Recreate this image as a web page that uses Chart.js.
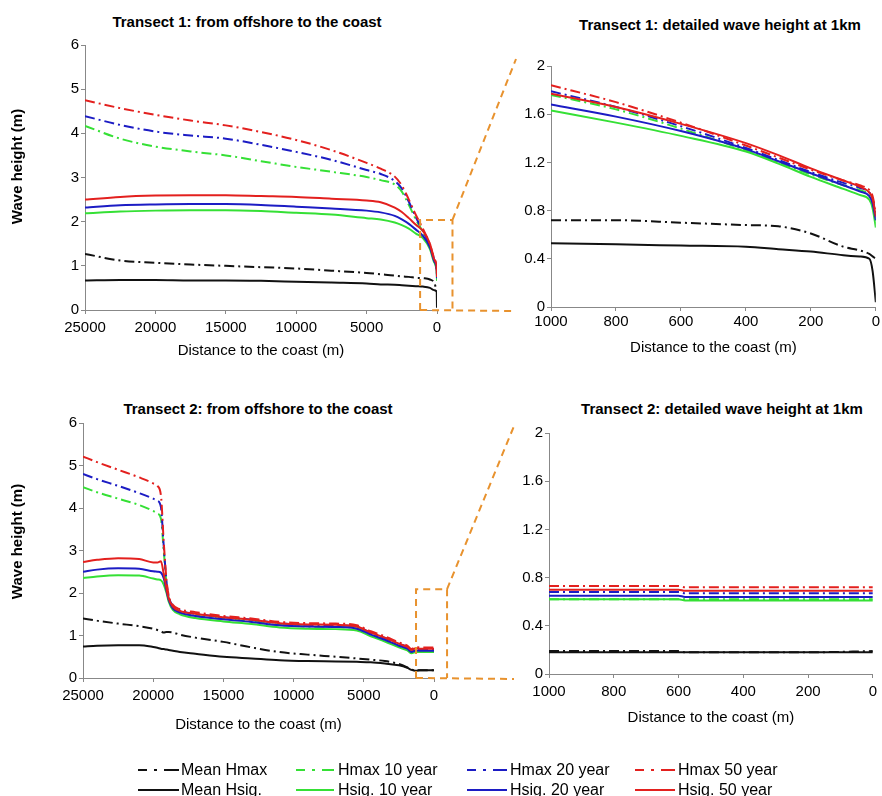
<!DOCTYPE html>
<html>
<head>
<meta charset="utf-8">
<script src="https://cdn.jsdelivr.net/npm/chart.js@4.4.1/dist/chart.umd.min.js"></script>
<style>
  body { margin: 0; background: #fff; width: 882px; height: 796px; position: relative; overflow: hidden;
         font-family: "Liberation Sans", Arial, sans-serif; color: #000; }
  .panel { position: absolute; }
  .title { position: absolute; transform: translate(-50%, -50%); font-weight: bold; font-size: 15px; white-space: nowrap; }
  .leg-line { position: absolute; }
  .leg-text { position: absolute; font-size: 16px; transform: translateY(-50%); white-space: nowrap; }
  #overlay { position: absolute; left: 0; top: 0; pointer-events: none; }
</style>
</head>
<body>
<div class="title" style="left:247px;top:21px">Transect 1: from offshore to the coast</div>
<div class="title" style="left:720px;top:24px">Transect 1: detailed wave height at 1km</div>
<div class="title" style="left:258px;top:408px">Transect 2: from offshore to the coast</div>
<div class="title" style="left:722px;top:408px">Transect 2: detailed wave height at 1km</div>

<div class="panel" style="left:0;top:0"><canvas id="c1" width="450" height="362"></canvas></div>
<div class="panel" style="left:520px;top:0"><canvas id="c2" width="362" height="362"></canvas></div>
<div class="panel" style="left:0;top:380px"><canvas id="c3" width="450" height="360"></canvas></div>
<div class="panel" style="left:520px;top:380px"><canvas id="c4" width="362" height="360"></canvas></div>
<canvas id="overlay" width="882" height="796"></canvas>
<div id="legend"></div>

<script>
// ---- data (distance to coast in m, wave height in m) ----

// Transect 1, offshore to coast
const t1Dist    = [25000, 22500, 20000, 17500, 15000, 12500, 10000, 7500, 5000, 4000, 3000, 2500, 2000, 1500, 1000, 500, 200, 20, 0];
const t1MeanHmax = [1.27, 1.12, 1.07, 1.03, 1.00, 0.97, 0.94, 0.89, 0.84, 0.81, 0.78, 0.76, 0.75, 0.73, 0.72, 0.69, 0.62, 0.44, 0.42];
const t1MeanHsig = [0.67, 0.68, 0.68, 0.67, 0.67, 0.66, 0.64, 0.62, 0.60, 0.58, 0.57, 0.56, 0.55, 0.54, 0.53, 0.50, 0.45, 0.41, 0.05];
const t1Hmax10  = [4.17, 3.88, 3.70, 3.59, 3.50, 3.37, 3.24, 3.13, 3.01, 2.94, 2.84, 2.68, 2.38, 2.05, 1.76, 1.42, 1.12, 0.86, 0.78];
const t1Hsig10  = [2.19, 2.23, 2.25, 2.26, 2.26, 2.24, 2.20, 2.16, 2.08, 2.05, 1.98, 1.92, 1.84, 1.73, 1.63, 1.38, 1.08, 0.87, 0.66];
const t1Hmax20  = [4.39, 4.19, 4.04, 3.95, 3.88, 3.74, 3.58, 3.40, 3.17, 3.08, 2.92, 2.75, 2.45, 2.10, 1.79, 1.45, 1.14, 0.90, 0.80];
const t1Hsig20  = [2.32, 2.37, 2.39, 2.40, 2.40, 2.38, 2.34, 2.30, 2.25, 2.21, 2.13, 2.05, 1.95, 1.82, 1.68, 1.42, 1.11, 0.90, 0.72];
const t1Hmax50  = [4.75, 4.57, 4.42, 4.29, 4.18, 4.03, 3.85, 3.62, 3.33, 3.20, 3.02, 2.82, 2.50, 2.15, 1.84, 1.48, 1.16, 0.95, 0.85];
const t1Hsig50  = [2.50, 2.56, 2.59, 2.60, 2.60, 2.58, 2.56, 2.52, 2.48, 2.44, 2.32, 2.22, 2.08, 1.93, 1.79, 1.50, 1.15, 0.97, 0.75];

// Transect 1, last 1 km
const d1Dist     = [1000, 800, 600, 400, 300, 200, 100, 50, 20, 10, 0];
const d1MeanHmax = [0.72, 0.72, 0.70, 0.68, 0.67, 0.61, 0.50, 0.47, 0.44, 0.42, 0.40];
const d1MeanHsig = [0.53, 0.52, 0.51, 0.50, 0.48, 0.46, 0.43, 0.42, 0.40, 0.30, 0.04];
const d1Hmax10   = [1.76, 1.64, 1.48, 1.30, 1.20, 1.10, 1.01, 0.97, 0.93, 0.88, 0.72];
const d1Hsig10   = [1.63, 1.53, 1.42, 1.29, 1.19, 1.08, 0.98, 0.93, 0.89, 0.82, 0.66];
const d1Hmax20   = [1.79, 1.66, 1.50, 1.32, 1.22, 1.12, 1.03, 0.99, 0.95, 0.90, 0.76];
const d1Hsig20   = [1.68, 1.58, 1.46, 1.31, 1.21, 1.11, 1.01, 0.96, 0.92, 0.86, 0.72];
const d1Hmax50   = [1.84, 1.70, 1.53, 1.34, 1.24, 1.14, 1.05, 1.01, 0.97, 0.92, 0.78];
const d1Hsig50   = [1.77, 1.66, 1.52, 1.36, 1.26, 1.15, 1.05, 1.00, 0.95, 0.90, 0.75];

// Transect 2, offshore to coast
const t2Dist     = [25000, 24000, 22500, 21000, 20000, 19700, 19450, 19250, 19050, 18900, 18600, 18100, 17000, 15000, 13000, 11000, 9000, 7000, 5500, 4500, 3500, 2500, 1900, 1600, 1300, 1000, 500, 0];
const t2MeanHmax = [1.40, 1.35, 1.28, 1.22, 1.16, 1.13, 1.10, 1.07, 1.08, 1.08, 1.07, 1.02, 0.95, 0.85, 0.72, 0.61, 0.55, 0.50, 0.46, 0.43, 0.40, 0.33, 0.25, 0.20, 0.18, 0.18, 0.18, 0.18];
const t2MeanHsig = [0.74, 0.76, 0.77, 0.77, 0.73, 0.71, 0.69, 0.68, 0.67, 0.66, 0.64, 0.61, 0.57, 0.50, 0.46, 0.42, 0.40, 0.39, 0.38, 0.37, 0.34, 0.30, 0.24, 0.19, 0.17, 0.18, 0.18, 0.18];
const t2Hmax10   = [4.49, 4.37, 4.22, 4.07, 3.93, 3.87, 3.75, 3.00, 2.20, 1.88, 1.66, 1.55, 1.47, 1.39, 1.33, 1.25, 1.21, 1.20, 1.17, 1.02, 0.90, 0.76, 0.68, 0.61, 0.63, 0.62, 0.62, 0.62];
const t2Hsig10   = [2.35, 2.39, 2.42, 2.41, 2.34, 2.32, 2.30, 2.20, 2.00, 1.80, 1.60, 1.50, 1.41, 1.33, 1.27, 1.19, 1.16, 1.15, 1.12, 0.98, 0.86, 0.72, 0.65, 0.58, 0.61, 0.61, 0.61, 0.61];
const t2Hmax20   = [4.80, 4.68, 4.52, 4.35, 4.22, 4.17, 4.02, 3.10, 2.25, 1.92, 1.70, 1.59, 1.51, 1.43, 1.37, 1.29, 1.25, 1.24, 1.21, 1.06, 0.94, 0.80, 0.73, 0.65, 0.68, 0.67, 0.67, 0.67];
const t2Hsig20   = [2.50, 2.55, 2.58, 2.57, 2.51, 2.50, 2.48, 2.35, 2.05, 1.84, 1.64, 1.54, 1.46, 1.38, 1.32, 1.24, 1.21, 1.20, 1.16, 1.02, 0.90, 0.76, 0.69, 0.61, 0.65, 0.64, 0.64, 0.64];
const t2Hmax50   = [5.21, 5.08, 4.90, 4.72, 4.58, 4.52, 4.30, 3.20, 2.30, 1.95, 1.72, 1.62, 1.55, 1.46, 1.40, 1.32, 1.29, 1.28, 1.24, 1.10, 0.98, 0.84, 0.76, 0.68, 0.73, 0.72, 0.72, 0.72];
const t2Hsig50   = [2.73, 2.78, 2.82, 2.80, 2.72, 2.72, 2.75, 2.45, 2.10, 1.88, 1.68, 1.58, 1.51, 1.43, 1.37, 1.29, 1.26, 1.25, 1.21, 1.07, 0.95, 0.81, 0.73, 0.66, 0.70, 0.69, 0.69, 0.69];

// Transect 2, last 1 km
const d2Dist     = [1000, 800, 600, 580, 400, 200, 0];
const d2MeanHmax = [0.19, 0.19, 0.19, 0.18, 0.18, 0.18, 0.19];
const d2MeanHsig = [0.18, 0.18, 0.18, 0.18, 0.18, 0.18, 0.18];
const d2Hmax10   = [0.62, 0.62, 0.62, 0.62, 0.62, 0.62, 0.62];
const d2Hsig10   = [0.62, 0.62, 0.62, 0.61, 0.61, 0.61, 0.61];
const d2Hmax20   = [0.68, 0.68, 0.68, 0.67, 0.67, 0.67, 0.67];
const d2Hsig20   = [0.65, 0.65, 0.65, 0.64, 0.64, 0.64, 0.64];
const d2Hmax50   = [0.73, 0.73, 0.73, 0.72, 0.72, 0.72, 0.72];
const d2Hsig50   = [0.70, 0.70, 0.70, 0.69, 0.69, 0.69, 0.69];

const leftTicksX  = [25000, 20000, 15000, 10000, 5000, 0];
const rightTicksX = [1000, 800, 600, 400, 200, 0];
const leftTicksY  = [0, 1, 2, 3, 4, 5, 6];
const rightTicksY = [0, 0.4, 0.8, 1.2, 1.6, 2];

// ---- styling ----
const RED = '#e3201e', BLUE = '#1c1cc4', GREEN = '#35e035', BLACK = '#111';
const ORANGE = '#e8922e';
const dashDot = [10, 4, 2, 4];

Chart.defaults.font.family = '"Liberation Sans", Arial, sans-serif';
Chart.defaults.font.size = 15;
Chart.defaults.color = '#000';

function pts(dist, vals) {
  return dist.map((d, i) => ({ x: d, y: vals[i] }));
}

function line(label, color, dash, dist, vals) {
  return {
    label: label,
    data: pts(dist, vals),
    borderColor: color,
    borderWidth: 2,
    borderDash: dash,
    pointRadius: 0,
    fill: false,
    cubicInterpolationMode: 'monotone'
  };
}

// first in list is drawn on top
function datasets(dist, m) {
  return [
    line('Hmax 50 year', RED, dashDot, dist, m.hmax50),
    line('Hsig. 50 year', RED, [], dist, m.hsig50),
    line('Hmax 20 year', BLUE, dashDot, dist, m.hmax20),
    line('Hsig. 20 year', BLUE, [], dist, m.hsig20),
    line('Hmax 10 year', GREEN, dashDot, dist, m.hmax10),
    line('Hsig. 10 year', GREEN, [], dist, m.hsig10),
    line('Mean Hmax', BLACK, dashDot, dist, m.meanHmax),
    line('Mean Hsig.', BLACK, [], dist, m.meanHsig)
  ];
}

// the y title of the big panels sits a little above the middle of the axis
const yTitleLift = {
  id: 'yTitleLift',
  beforeDraw(chart, args, opts) {
    if (opts.lift) chart.scales.y.options.title.display = false;
  },
  afterDraw(chart, args, opts) {
    if (!opts.lift) return;
    const y = chart.scales.y, ctx = chart.ctx;
    ctx.save();
    ctx.translate(18, (y.top + y.bottom) / 2 - opts.lift);
    ctx.rotate(-Math.PI / 2);
    ctx.font = 'bold 15px "Liberation Sans", Arial, sans-serif';
    ctx.fillStyle = '#000';
    ctx.textAlign = 'center';
    ctx.textBaseline = 'middle';
    ctx.fillText('Wave height (m)', 0, 0);
    ctx.restore();
  }
};

function makeChart(id, o) {
  return new Chart(document.getElementById(id), {
    type: 'line',
    data: { datasets: datasets(o.dist, o.series) },
    plugins: [yTitleLift],
    options: {
      responsive: false,
      animation: false,
      layout: { padding: { top: o.padTop, right: o.padRight, left: 0, bottom: 0 } },
      plugins: { legend: { display: false }, tooltip: { enabled: false }, yTitleLift: { lift: o.yTitleLift } },
      scales: {
        x: {
          type: 'linear',
          reverse: true,
          min: 0,
          max: o.xMax,
          afterFit: s => { s.height = o.xHeight; },
          afterBuildTicks: s => { s.ticks = o.xTicks.map(v => ({ value: v })); },
          ticks: { padding: o.xLabelPad, maxRotation: 0, autoSkip: false, callback: v => String(v) },
          grid: { drawOnChartArea: false, color: '#888', tickLength: 4 },
          border: { color: '#888' },
          title: { display: true, text: 'Distance to the coast (m)', font: { size: 15 }, padding: { top: 0, bottom: o.xTitlePad } }
        },
        y: {
          min: 0,
          max: o.yTicks[o.yTicks.length - 1],
          afterFit: s => { s.width = o.yWidth; },
          afterBuildTicks: s => { s.ticks = o.yTicks.map(v => ({ value: v })); },
          ticks: { padding: 2, callback: v => String(Math.round(v * 10) / 10) },
          grid: { drawOnChartArea: false, color: '#888', tickLength: 4 },
          border: { color: '#888' },
          title: { display: false, text: 'Wave height (m)' }
        }
      }
    }
  });
}

const c1 = makeChart('c1', {
  dist: t1Dist, xMax: 25000, xTicks: leftTicksX, yTicks: leftTicksY,
  series: { meanHmax: t1MeanHmax, meanHsig: t1MeanHsig, hmax10: t1Hmax10, hsig10: t1Hsig10, hmax20: t1Hmax20, hsig20: t1Hsig20, hmax50: t1Hmax50, hsig50: t1Hsig50 },
  padTop: 45, padRight: 13, yWidth: 85, xHeight: 52, xTitlePad: 2, xLabelPad: 5, yTitleLift: 11
});
const c2 = makeChart('c2', {
  dist: d1Dist, xMax: 1000, xTicks: rightTicksX, yTicks: rightTicksY,
  series: { meanHmax: d1MeanHmax, meanHsig: d1MeanHsig, hmax10: d1Hmax10, hsig10: d1Hsig10, hmax20: d1Hmax20, hsig20: d1Hsig20, hmax50: d1Hmax50, hsig50: d1Hsig50 },
  padTop: 66, padRight: 4, yWidth: 31, xHeight: 55, xTitlePad: 5, xLabelPad: 2, yTitleLift: 0
});
const c3 = makeChart('c3', {
  dist: t2Dist, xMax: 25000, xTicks: leftTicksX, yTicks: leftTicksY,
  series: { meanHmax: t2MeanHmax, meanHsig: t2MeanHsig, hmax10: t2Hmax10, hsig10: t2Hsig10, hmax20: t2Hmax20, hsig20: t2Hsig20, hmax50: t2Hmax50, hsig50: t2Hsig50 },
  padTop: 43, padRight: 16, yWidth: 83, xHeight: 62, xTitlePad: 6, xLabelPad: 5, yTitleLift: 9
});
const c4 = makeChart('c4', {
  dist: d2Dist, xMax: 1000, xTicks: rightTicksX, yTicks: rightTicksY,
  series: { meanHmax: d2MeanHmax, meanHsig: d2MeanHsig, hmax10: d2Hmax10, hsig10: d2Hsig10, hmax20: d2Hmax20, hsig20: d2Hsig20, hmax50: d2Hmax50, hsig50: d2Hsig50 },
  padTop: 53, padRight: 9, yWidth: 29, xHeight: 66, xTitlePad: 13, xLabelPad: 5, yTitleLift: 0
});

// orange zoom boxes and the connector lines to the detail panels
function zoomBox(ctx, src, srcTop, dst, dstLeft, dstTop, from, to, yTop) {
  const x0 = src.scales.x.getPixelForValue(from);
  const x1 = src.scales.x.getPixelForValue(to);
  const y0 = srcTop + src.scales.y.getPixelForValue(yTop);
  const y1 = srcTop + src.scales.y.getPixelForValue(0);
  const tx = dstLeft + dst.chartArea.left - 35;
  const ty = dstTop + dst.chartArea.top - 7;
  ctx.beginPath();
  ctx.moveTo(x0, y1); ctx.lineTo(x0, y0); ctx.lineTo(x1, y0); ctx.lineTo(x1, y1);
  ctx.moveTo(x1, y0); ctx.lineTo(tx, ty);
  ctx.moveTo(x0, y1); ctx.lineTo(tx, y1 + 1);
  ctx.stroke();
}
const ov = document.getElementById('overlay').getContext('2d');
ov.strokeStyle = ORANGE;
ov.lineWidth = 2;
ov.setLineDash([7, 5]);
zoomBox(ov, c1, 0, c2, 520, 0, 1200, -1100, 2.04);
zoomBox(ov, c3, 380, c4, 520, 380, 1280, -930, 2.09);

// legend
const legendItems = [
  { label: 'Mean Hmax', color: BLACK, dash: true, x: 138, w: 41, tx: 181, y: 770 },
  { label: 'Hmax 10 year', color: GREEN, dash: true, x: 296, w: 38, tx: 338, y: 770 },
  { label: 'Hmax 20 year', color: BLUE, dash: true, x: 467, w: 40, tx: 510, y: 770 },
  { label: 'Hmax 50 year', color: RED, dash: true, x: 635, w: 40, tx: 678, y: 770 },
  { label: 'Mean Hsig.', color: BLACK, dash: false, x: 138, w: 41, tx: 181, y: 790 },
  { label: 'Hsig. 10 year', color: GREEN, dash: false, x: 296, w: 38, tx: 338, y: 790 },
  { label: 'Hsig. 20 year', color: BLUE, dash: false, x: 467, w: 40, tx: 510, y: 790 },
  { label: 'Hsig. 50 year', color: RED, dash: false, x: 635, w: 40, tx: 678, y: 790 }
];
const legend = document.getElementById('legend');
legendItems.forEach(it => {
  const svgNS = 'http://www.w3.org/2000/svg';
  const svg = document.createElementNS(svgNS, 'svg');
  svg.setAttribute('class', 'leg-line');
  svg.setAttribute('width', it.w);
  svg.setAttribute('height', 6);
  svg.style.left = it.x + 'px';
  svg.style.top = (it.y - 3) + 'px';
  const ln = document.createElementNS(svgNS, 'line');
  ln.setAttribute('x1', 0); ln.setAttribute('x2', it.w);
  ln.setAttribute('y1', 3); ln.setAttribute('y2', 3);
  ln.setAttribute('stroke', it.color);
  ln.setAttribute('stroke-width', 2);
  if (it.dash) ln.setAttribute('stroke-dasharray', '9,7,3,7,15');
  svg.appendChild(ln);
  legend.appendChild(svg);
  const t = document.createElement('div');
  t.className = 'leg-text';
  t.style.left = it.tx + 'px';
  t.style.top = it.y + 'px';
  t.textContent = it.label;
  legend.appendChild(t);
});
</script>
</body>
</html>
